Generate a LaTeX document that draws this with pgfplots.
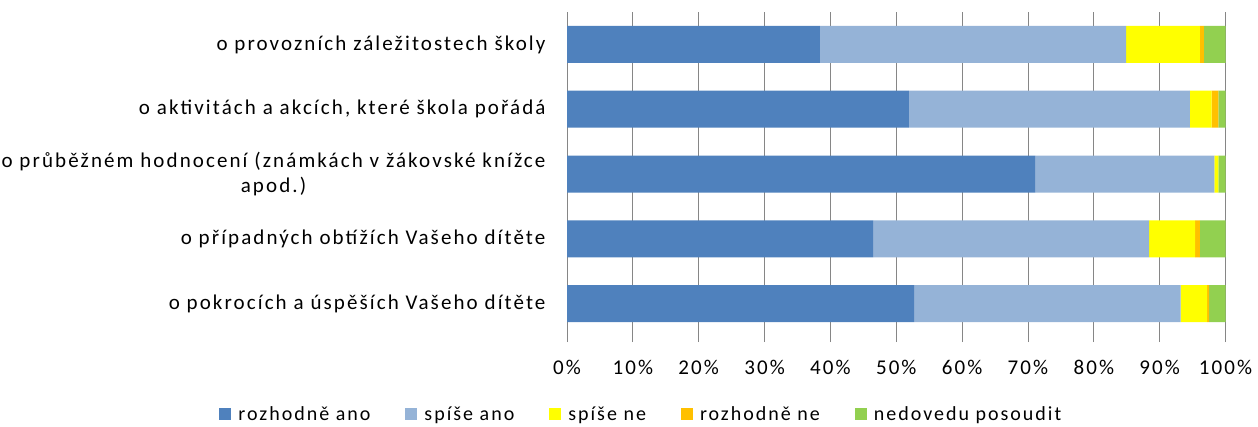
\documentclass[border=0pt]{standalone}
\usepackage{pgfplots}
\pgfplotsset{compat=1.18}
\usepackage{fontspec}
\setmainfont{Carlito}[LetterSpace=10]

\definecolor{ano}{HTML}{4F81BD}
\definecolor{spiseano}{HTML}{95B3D7}
\definecolor{spisene}{HTML}{FFFF00}
\definecolor{ne}{HTML}{FFC000}
\definecolor{nevim}{HTML}{92D050}
\definecolor{gridc}{HTML}{868686}

\begin{document}
\begin{tikzpicture}[x=1pt,y=1pt]
\begin{axis}[
    at={(567pt,-336pt)}, anchor=south west,
    width=658.5pt, height=324pt, scale only axis,
    xbar stacked, bar width=37pt,
    xmin=0, xmax=100, ymin=0.5, ymax=5.5, y dir=reverse,
    axis lines*=left,
    x axis line style={draw=none},
    y axis line style={draw=gridc, line width=0.8pt},
    xmajorgrids, grid style={draw=gridc, line width=0.8pt},
    tick align=outside,
    xtick={0,10,...,100},
    xtick style={draw=gridc, line width=0.8pt},
    major tick length=6pt,
    ytick={1,2,3,4,5},
    ytick style={draw=none},
    /pgf/number format/assume math mode=true,
    xticklabel={\pgfmathprintnumber{\tick}\%},
    xticklabel style={font=\fontsize{21}{25}\selectfont, yshift=-15pt},
    yticklabels={
        o provozních záležitostech školy,
        {o aktivitách a akcích, které škola pořádá},
        {o průběžném hodnocení (známkách v žákovské knížce\\apod.)},
        o případných obtížích Vašeho dítěte,
        o pokrocích a úspěších Vašeho dítěte},
    yticklabel style={align=center, font=\fontsize{21}{25}\selectfont, xshift=-12pt},
    legend style={at={(0.113,-0.241)}, anchor=center, draw=none,
        legend columns=5, font=\fontsize{20}{24}\selectfont,
        /tikz/every odd column/.append style={column sep=5pt},
        /tikz/every even column/.append style={column sep=33pt}},
    legend image code/.code={\fill[#1] (0pt,-6pt) rectangle (12pt,6pt);},
]
\addplot[fill=ano, draw=none] coordinates {(38.4,1) (51.9,2) (71.1,3) (46.5,4) (52.7,5)};
\addplot[fill=spiseano, draw=none] coordinates {(46.5,1) (42.7,2) (27.2,3) (41.9,4) (40.5,5)};
\addplot[fill=spisene, draw=none] coordinates {(11.2,1) (3.3,2) (0.6,3) (7.0,4) (4.0,5)};
\addplot[fill=ne, draw=none] coordinates {(0.6,1) (1.0,2) (0.0,3) (0.7,4) (0.3,5)};
\addplot[fill=nevim, draw=none] coordinates {(3.3,1) (1.1,2) (1.1,3) (3.9,4) (2.5,5)};
\legend{rozhodně ano, spíše ano, spíše ne, rozhodně ne, nedovedu posoudit}
\end{axis}
\pgfresetboundingbox
\path[use as bounding box] (0pt,0pt) rectangle (1258pt,-427pt);
\end{tikzpicture}
\end{document}
